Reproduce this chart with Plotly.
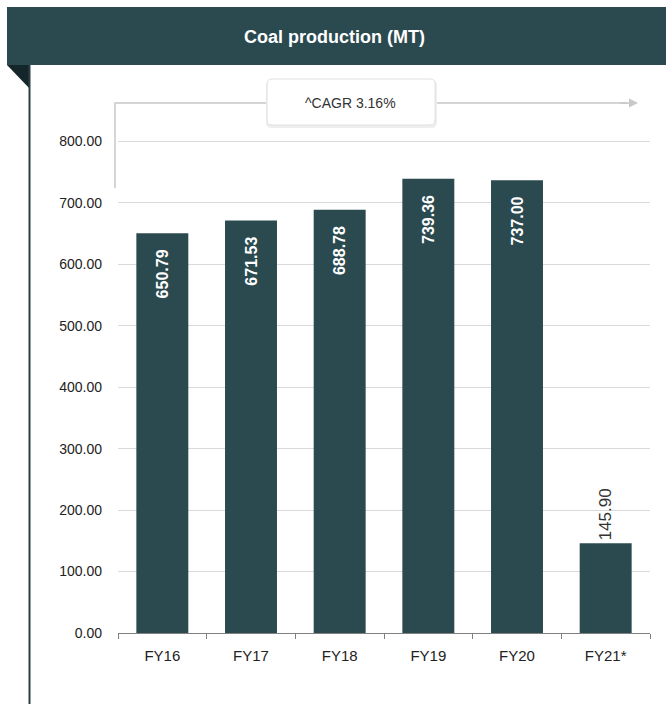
# ================================================================
# 0. Section: IMPORTS
# ================================================================
import plotly.graph_objects as go


# ================================================================
# 1. Section: Data
# ================================================================
years = ["FY16", "FY17", "FY18", "FY19", "FY20", "FY21*"]
production_mt = [650.79, 671.53, 688.78, 739.36, 737.00, 145.90]
label_positions = ["inside", "inside", "inside", "inside", "inside", "outside"]
y_ticks = [0, 100, 200, 300, 400, 500, 600, 700, 800]
cagr_text = "^CAGR 3.16%"

# ================================================================
# 2. Section: Figure
# ================================================================
W, H = 666, 712
TEAL = "#2b4a50"
# the photographed page comes out ~1% shorter than drawn, so stretch y a bit
Y_STRETCH = 712 / 704


def px(x):
    return x / W


def py(y):
    return max(0.0, 1 - y * Y_STRETCH / H)


def rounded_box(x0, y0, x1, y1, r):
    # pixel coords in, paper-coordinate svg path out
    pts = [
        ("M", x0 + r, y0), ("L", x1 - r, y0), ("Q", x1, y0, x1, y0 + r),
        ("L", x1, y1 - r), ("Q", x1, y1, x1 - r, y1), ("L", x0 + r, y1),
        ("Q", x0, y1, x0, y1 - r), ("L", x0, y0 + r), ("Q", x0, y0, x0 + r, y0),
    ]
    out = []
    for p in pts:
        cmd, vals = p[0], p[1:]
        coords = []
        for i in range(0, len(vals), 2):
            coords.append(f"{px(vals[i])},{py(vals[i + 1])}")
        out.append(cmd + " " + " ".join(coords))
    return " ".join(out) + " Z"


# inside labels are bold white and sit a little below the bar top
bar_templates = [
    "<b>%{y:.2f}</b>\u00a0\u00a0\u00a0" if pos == "inside" else "%{y:.2f}"
    for pos in label_positions
]

fig = go.Figure()

fig.add_trace(
    go.Bar(
        x=years,
        y=production_mt,
        marker=dict(color=TEAL, line=dict(width=0)),
        texttemplate=bar_templates,
        textposition=label_positions,
        insidetextanchor="end",
        textangle=-90,
        insidetextfont=dict(color="white", size=16, family="Arial"),
        outsidetextfont=dict(color="#333333", size=17, family="Arial"),
        cliponaxis=False,
        width=0.586,
    )
)

shapes = [
    # header bar
    dict(type="rect", xref="paper", yref="paper",
         x0=px(7), x1=px(666), y0=py(65), y1=py(7),
         fillcolor=TEAL, line=dict(width=0), layer="below"),
    # folded corner
    dict(type="path", xref="paper", yref="paper",
         path=f"M {px(7)},{py(65)} L {px(30)},{py(65)} L {px(30)},{py(89)} Z",
         fillcolor="#14262a", line=dict(width=0)),
    # left border
    dict(type="line", xref="paper", yref="paper",
         x0=px(29.5), x1=px(29.5), y0=py(65), y1=0,
         line=dict(color="#2a3f44", width=2)),
    # CAGR bracket
    dict(type="path", xref="paper", yref="paper",
         path=f"M {px(115)},{py(188)} L {px(115)},{py(103)} L {px(628)},{py(103)}",
         line=dict(color="#c8c8c8", width=1.5)),
    # box shadow
    dict(type="path", xref="paper", yref="paper",
         path=rounded_box(266, 80, 437, 128, 6),
         fillcolor="#eeeeee", line=dict(width=0)),
    dict(type="path", xref="paper", yref="paper",
         path=rounded_box(267, 79, 435, 125, 5),
         fillcolor="white", line=dict(color="#e0e0e0", width=1)),
]

annotations = [
    dict(text="<b>Coal production (MT)</b>", xref="paper", yref="paper",
         x=px(334), y=py(37), xanchor="center", yanchor="middle",
         showarrow=False,
         font=dict(color="white", size=18, family="Arial")),
    # arrowhead
    dict(xref="paper", yref="paper", x=px(638), y=py(103),
         ax=-20, ay=0,
         showarrow=True, arrowhead=2, arrowsize=1.2, arrowwidth=1.5,
         arrowcolor="#c8c8c8", text=""),
    dict(text=cagr_text, xref="paper", yref="paper",
         x=px(351), y=py(103), xanchor="center", yanchor="middle",
         showarrow=False,
         font=dict(color="#333333", size=14, family="Arial")),
]

fig.update_layout(
    width=W,
    height=H,
    margin=dict(l=0, r=0, t=0, b=0),
    paper_bgcolor="white",
    plot_bgcolor="white",
    showlegend=False,
    bargap=0.414,
    shapes=shapes,
    annotations=annotations,
    font=dict(family="Arial", color="#333333", size=14),
    xaxis=dict(
        domain=[px(118), px(650)],
        showline=True, linecolor="#808080", linewidth=1,
        ticks="outside", tickcolor="#808080", ticklen=5,
        tickson="boundaries", showgrid=False,
        ticklabelstandoff=9,
        tickfont=dict(size=15, color="#222222"),
    ),
    yaxis=dict(
        domain=[py(633), py(80)],
        range=[0, 900],
        tickvals=y_ticks,
        tickformat=".2f",
        showgrid=True, gridcolor="#d9d9d9", gridwidth=1,
        zeroline=False, showline=False,
        ticks="", ticklabelstandoff=15,
        tickfont=dict(size=14, color="#222222"),
    ),
)

# pin the plot to the top-left corner and keep the page exactly window-sized
pin = (
    "var s=document.documentElement.style;s.height='712px';s.overflow='hidden';"
    "var b=document.body.style;b.margin='0';b.height='712px';b.overflow='hidden';"
    "var d=document.getElementById('{plot_id}');"
    "d.style.position='fixed';d.style.left='0';d.style.top='0';"
)
fig.write_html("out.html", post_script=pin, config={"displayModeBar": False})
